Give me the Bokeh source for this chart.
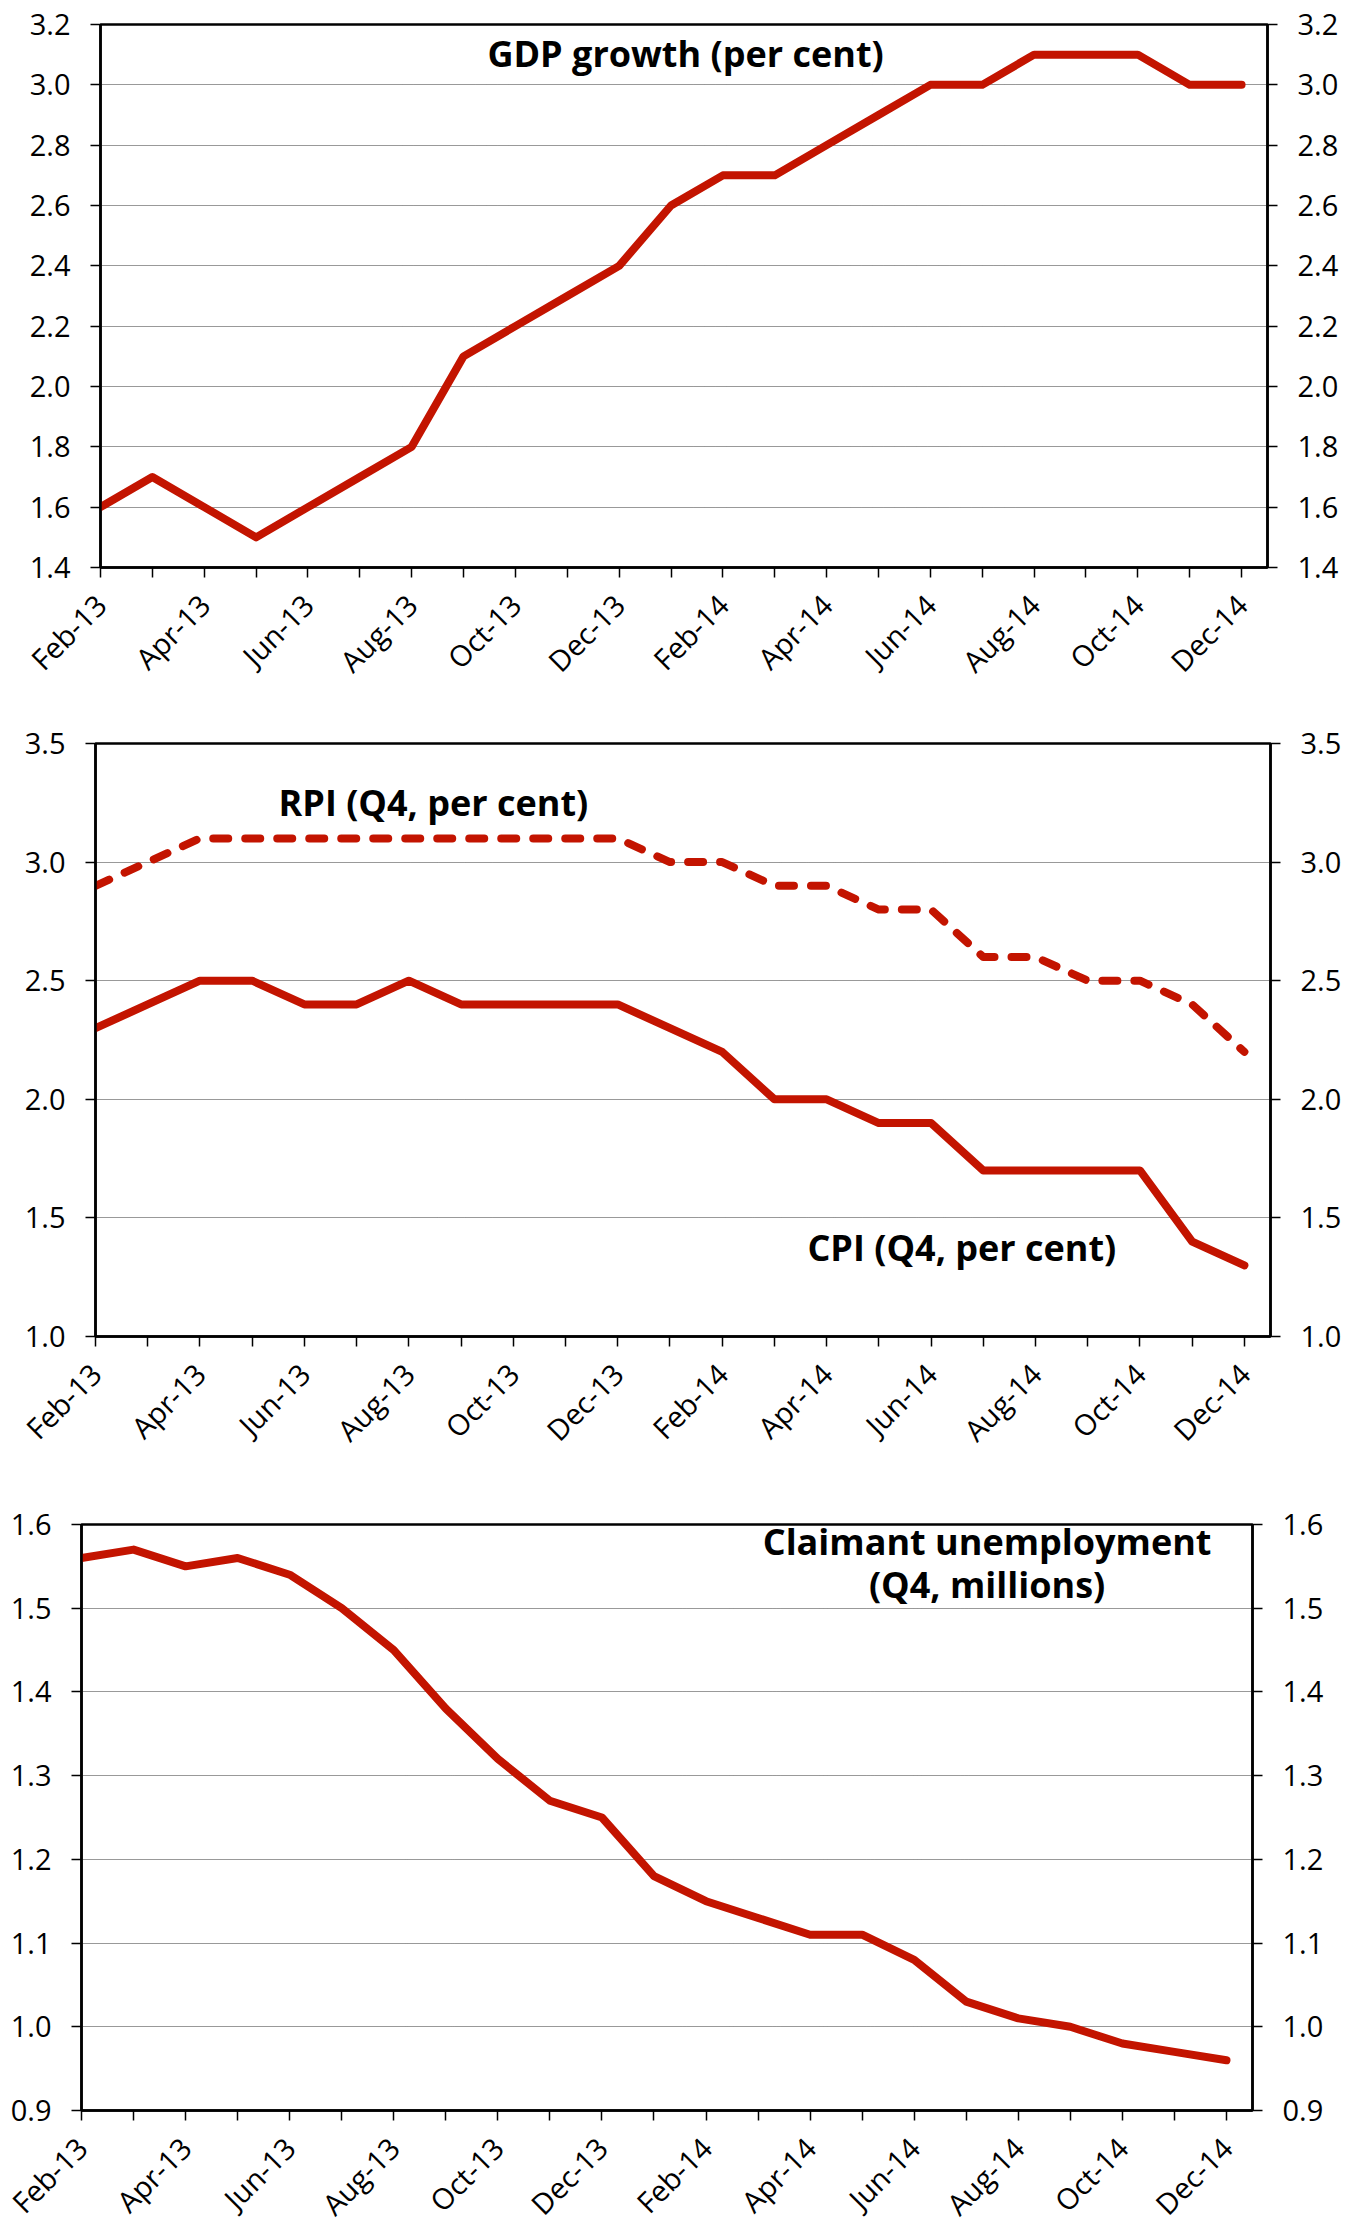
import math
from bokeh.plotting import figure
from bokeh.models import FixedTicker, LinearAxis, Label, Range1d, PrintfTickFormatter
from bokeh.layouts import column
from bokeh.embed import file_html
from bokeh.resources import INLINE

# ---------------- data ----------------
months = ["Feb-13", "Mar-13", "Apr-13", "May-13", "Jun-13", "Jul-13", "Aug-13",
          "Sep-13", "Oct-13", "Nov-13", "Dec-13", "Jan-14", "Feb-14", "Mar-14",
          "Apr-14", "May-14", "Jun-14", "Jul-14", "Aug-14", "Sep-14", "Oct-14",
          "Nov-14", "Dec-14"]

gdp = [1.6, 1.7, 1.6, 1.5, 1.6, 1.7, 1.8, 2.1, 2.2, 2.3, 2.4, 2.6, 2.7, 2.7,
       2.8, 2.9, 3.0, 3.0, 3.1, 3.1, 3.1, 3.0, 3.0]

rpi = [2.9, 3.0, 3.1, 3.1, 3.1, 3.1, 3.1, 3.1, 3.1, 3.1, 3.1, 3.0, 3.0, 2.9,
       2.9, 2.8, 2.8, 2.6, 2.6, 2.5, 2.5, 2.4, 2.2]

cpi = [2.3, 2.4, 2.5, 2.5, 2.4, 2.4, 2.5, 2.4, 2.4, 2.4, 2.4, 2.3, 2.2, 2.0,
       2.0, 1.9, 1.9, 1.7, 1.7, 1.7, 1.7, 1.4, 1.3]

claimant = [1.56, 1.57, 1.55, 1.56, 1.54, 1.50, 1.45, 1.38, 1.32, 1.27, 1.25,
            1.18, 1.15, 1.13, 1.11, 1.11, 1.08, 1.03, 1.01, 1.00, 0.98, 0.97, 0.96]

gdp_ticks = [1.4, 1.6, 1.8, 2.0, 2.2, 2.4, 2.6, 2.8, 3.0, 3.2]
infl_ticks = [1.0, 1.5, 2.0, 2.5, 3.0, 3.5]
claim_ticks = [0.9, 1.0, 1.1, 1.2, 1.3, 1.4, 1.5, 1.6]

gdp_title = "GDP growth (per cent)"
rpi_title = "RPI (Q4, per cent)"
cpi_title = "CPI (Q4, per cent)"
claim_title = ["Claimant unemployment", "(Q4, millions)"]

# ---------------- style ----------------
RED = "#C31400"
FONT = "Open Sans"
TICK_SIZE = "29px"
TITLE_SIZE = "36px"
LINE_W = 8
BORDER_LEFT = 100
TOTAL_W = 1350
x_idx = list(range(len(months)))


def make_fig(left, right, top, bottom, fig_top, fig_bottom, yticks):
    # left/right/top/bottom: page position of the plot frame
    fw = int(round(right - left))
    p = figure(frame_width=fw,
               frame_height=int(round(bottom - top)),
               x_range=Range1d(0, len(months) - 0.5),
               y_range=Range1d(yticks[0], yticks[-1]),
               output_backend="svg", toolbar_location=None,
               min_border_left=BORDER_LEFT,
               min_border_right=TOTAL_W - BORDER_LEFT - fw,
               min_border_top=int(round(top - fig_top)),
               min_border_bottom=int(round(fig_bottom - bottom)),
               background_fill_color="white", border_fill_color="white")
    shift = int(round(left - BORDER_LEFT))
    if shift != 0:
        p.margin = (0, 0, 0, shift)
    p.outline_line_color = "black"
    p.outline_line_width = 2.5
    p.xgrid.visible = False
    yt = FixedTicker(ticks=yticks, minor_ticks=[])
    p.ygrid.ticker = yt
    p.ygrid.grid_line_color = "#333333"
    p.ygrid.grid_line_dash = "1 1"
    p.ygrid.grid_line_width = 1

    xa = p.xaxis[0]
    xa.ticker = FixedTicker(ticks=list(range(0, len(months), 2)),
                            minor_ticks=list(range(1, len(months), 2)))
    xa.major_label_overrides = {i: months[i] for i in range(0, len(months), 2)}
    xa.major_label_orientation = math.pi / 4
    xa.major_tick_out = 10
    xa.major_tick_in = 0
    xa.minor_tick_out = 10
    xa.minor_tick_in = 0
    xa.major_label_standoff = 22
    xa.axis_line_width = 2.5
    xa.axis_line_color = "black"
    xa.major_tick_line_color = "black"
    xa.minor_tick_line_color = "black"
    xa.major_tick_line_width = 1.5
    xa.minor_tick_line_width = 1.5
    xa.major_label_text_font = FONT
    xa.major_label_text_font_size = TICK_SIZE
    xa.major_label_text_color = "black"

    ya = p.yaxis[0]
    yr = LinearAxis()
    p.add_layout(yr, "right")
    for ax in [ya, yr]:
        ax.ticker = yt
        ax.formatter = PrintfTickFormatter(format="%.1f")
        ax.major_tick_out = 10
        ax.major_tick_in = 0
        ax.minor_tick_out = 0
        ax.minor_tick_in = 0
        ax.major_label_standoff = 20
        ax.axis_line_width = 2.5
        ax.axis_line_color = "black"
        ax.major_tick_line_color = "black"
        ax.major_tick_line_width = 1.5
        ax.major_label_text_font = FONT
        ax.major_label_text_font_size = TICK_SIZE
        ax.major_label_text_color = "black"
    return p


def add_title(p, text, x, y):
    p.add_layout(Label(x=x, y=y, text=text, text_font=FONT,
                       text_font_size=TITLE_SIZE, text_font_style="bold",
                       text_align="center", text_baseline="alphabetic",
                       text_color="black"))


# ---- panel 1: GDP ----
p1 = make_fig(100, 1267, 24, 567, 0, 700, gdp_ticks)
p1.line(x_idx, gdp, line_color=RED, line_width=LINE_W, line_cap="round", line_join="round")
add_title(p1, gdp_title, 11.28, 3.103)

# ---- panel 2: RPI / CPI ----
p2 = make_fig(95, 1270, 743, 1336, 700, 1480, infl_ticks)
p2.line(x_idx, rpi, line_color=RED, line_width=LINE_W, line_dash="15 17",
        line_cap="round", line_join="round")
p2.line(x_idx, cpi, line_color=RED, line_width=LINE_W, line_cap="round", line_join="round")
add_title(p2, rpi_title, 6.47, 3.251)
add_title(p2, cpi_title, 16.59, 1.375)

# ---- panel 3: claimant unemployment ----
p3 = make_fig(81, 1252, 1524, 2110, 1480, 2220, claim_ticks)
p3.line(x_idx, claimant, line_color=RED, line_width=LINE_W, line_cap="round", line_join="round")
add_title(p3, claim_title[0], 17.40, 1.580)
add_title(p3, claim_title[1], 17.40, 1.528)

layout = column(p1, p2, p3, spacing=0)
open("out.html", "w").write(file_html(layout, INLINE))
